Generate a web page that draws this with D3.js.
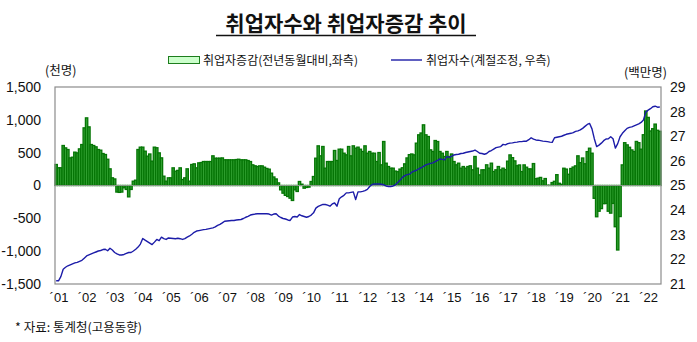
<!DOCTYPE html>
<html><head><meta charset="utf-8">
<script src="https://cdn.jsdelivr.net/npm/d3@7"></script>
<style>body{margin:0;background:#fff} svg{display:block}</style>
</head><body>
<svg id="c" width="697" height="342"></svg>
<script>
// ---- data ----
const yearLabels = ["01","02","03","04","05","06","07","08","09","10","11","12","13","14","15","16","17","18","19","20","21","22"];
// 취업자증감 (전년동월대비, 천명)
const chg2001 = [320, 270, 270, 609, 573, 548, 421, 431, 508, 497, 558, 624];
const chg2002 = [878, 1030, 893, 624, 609, 589, 548, 538, 487, 472, 400, 254];
const chg2003 = [117, 100, -100, -105, -100, -35, -60, -173, -60, 66, 81, 548];
const chg2004 = [584, 584, 523, 447, 480, 371, 584, 575, 497, 421, 142, 66];
const chg2005 = [117, 117, 269, 218, 230, 269, 91, 117, 254, 66, 320, 330];
const chg2006 = [269, 345, 350, 365, 365, 365, 365, 452, 416, 416, 416, 420];
const chg2007 = [391, 391, 391, 391, 391, 395, 400, 391, 391, 391, 380, 365];
const chg2008 = [315, 300, 289, 299, 299, 279, 260, 249, 188, 130, 100, 40];
const chg2009 = [-66, -117, -150, -168, -193, -228, -66, -91, 61, 20, -41, -30];
const chg2010 = [-25, 61, 137, 416, 604, 452, 594, 264, 365, 365, 365, 533];
const chg2011 = [381, 553, 553, 492, 467, 594, 452, 604, 569, 584, 553, 518];
const chg2012 = [604, 492, 518, 492, 492, 365, 502, 315, 670, 340, 289, 264];
const chg2013 = [264, 220, 210, 250, 270, 330, 420, 470, 480, 467, 645, 772];
const chg2014 = [800, 924, 772, 746, 543, 518, 685, 670, 518, 492, 442, 518];
const chg2015 = [442, 480, 365, 315, 340, 264, 289, 264, 289, 300, 239, 442];
const chg2016 = [264, 162, 239, 239, 315, 264, 340, 213, 239, 289, 239, 264];
const chg2017 = [243, 371, 466, 424, 375, 301, 313, 212, 314, 279, 253, 253];
const chg2018 = [334, 104, 112, 123, 72, 106, 5, 3, 45, 64, 165, 34];
const chg2019 = [19, 263, 250, 171, 259, 281, 299, 452, 348, 419, 331, 516];
const chg2020 = [568, 492, -195, -476, -392, -352, -277, -274, -392, -421, -273, -628];
const chg2021 = [-982, -473, 314, 652, 619, 582, 542, 518, 671, 652, 553, 773];
const chg2022 = [1135, 1037, 831, 865, 935, 841, 826];
// 취업자수 (계절조정, 백만명)
const emp2001 = [21.13, 21.13, 21.30, 21.60, 21.68, 21.74, 21.78, 21.82, 21.86, 21.88, 21.92, 21.96];
const emp2002 = [22.05, 22.14, 22.18, 22.22, 22.26, 22.30, 22.34, 22.36, 22.40, 22.41, 22.35, 22.45];
const emp2003 = [22.38, 22.28, 22.22, 22.18, 22.18, 22.20, 22.24, 22.28, 22.28, 22.34, 22.41, 22.50];
const emp2004 = [22.62, 22.85, 22.78, 22.72, 22.66, 22.60, 22.70, 22.81, 22.76, 22.90, 22.84, 22.81];
const emp2005 = [22.87, 22.86, 22.85, 22.84, 22.86, 22.84, 22.81, 22.84, 22.90, 22.95, 23.02, 23.10];
const emp2006 = [23.15, 23.17, 23.19, 23.21, 23.22, 23.24, 23.26, 23.28, 23.32, 23.38, 23.42, 23.48];
const emp2007 = [23.55, 23.56, 23.57, 23.58, 23.58, 23.60, 23.61, 23.62, 23.66, 23.71, 23.75, 23.80];
const emp2008 = [23.82, 23.84, 23.85, 23.85, 23.86, 23.85, 23.85, 23.84, 23.80, 23.84, 23.85, 23.76];
const emp2009 = [23.70, 23.66, 23.64, 23.60, 23.58, 23.72, 23.74, 23.72, 23.82, 23.77, 23.74, 23.71];
const emp2010 = [23.74, 23.80, 23.89, 24.08, 24.15, 24.19, 24.23, 24.23, 24.20, 24.16, 24.25, 24.29];
const emp2011 = [24.16, 24.46, 24.54, 24.60, 24.70, 24.70, 24.72, 24.74, 24.43, 24.74, 24.74, 24.76];
const emp2012 = [24.79, 24.84, 24.96, 25.04, 25.06, 25.06, 25.06, 25.05, 25.03, 24.98, 24.96, 24.96];
const emp2013 = [24.98, 25.03, 25.12, 25.22, 25.33, 25.40, 25.44, 25.46, 25.54, 25.58, 25.62, 25.68];
const emp2014 = [25.72, 25.78, 25.84, 25.87, 25.90, 25.92, 25.97, 26.02, 26.08, 26.06, 26.04, 26.17];
const emp2015 = [26.14, 26.18, 26.24, 26.26, 26.27, 26.30, 26.31, 26.34, 26.36, 26.38, 26.40, 26.44];
const emp2016 = [26.38, 26.31, 26.30, 26.27, 26.30, 26.38, 26.42, 26.48, 26.54, 26.56, 26.58, 26.67];
const emp2017 = [26.65, 26.70, 26.72, 26.73, 26.75, 26.76, 26.78, 26.78, 26.80, 26.80, 26.86, 26.94];
const emp2018 = [26.88, 26.85, 26.84, 26.82, 26.80, 26.79, 26.78, 26.76, 26.75, 26.94, 26.96, 26.98];
const emp2019 = [27.00, 27.04, 27.08, 27.10, 27.12, 27.15, 27.20, 27.22, 27.26, 27.32, 27.40, 27.48];
const emp2020 = [27.52, 27.30, 26.90, 26.58, 26.64, 26.72, 26.82, 26.89, 26.90, 26.98, 26.90, 26.52];
const emp2021 = [26.70, 26.98, 27.12, 27.22, 27.32, 27.36, 27.38, 27.42, 27.46, 27.50, 27.56, 27.66];
const emp2022 = [27.98, 28.06, 28.12, 28.20, 28.22, 28.18, 28.19];

const leftTicks = [-1500, -1000, -500, 0, 500, 1000, 1500];
const rightTicks = [21, 22, 23, 24, 25, 26, 27, 28, 29];

const change = [chg2001,chg2002,chg2003,chg2004,chg2005,chg2006,chg2007,chg2008,chg2009,chg2010,chg2011,
  chg2012,chg2013,chg2014,chg2015,chg2016,chg2017,chg2018,chg2019,chg2020,chg2021,chg2022].flat();
const level = [emp2001,emp2002,emp2003,emp2004,emp2005,emp2006,emp2007,emp2008,emp2009,emp2010,emp2011,
  emp2012,emp2013,emp2014,emp2015,emp2016,emp2017,emp2018,emp2019,emp2020,emp2021,emp2022].flat();
const months = change.map((_, i) => i);

// ---- layout ----
const P = {l: 55, r: 661, t: 87, b: 284};
const svg = d3.select("#c");
const numFont = "'Liberation Sans', Arial, sans-serif";
const korFont = "'Noto Sans CJK KR', sans-serif";

const x = d3.scaleBand().domain(months).range([P.l, P.r]).paddingInner(0);
const xm = d3.scaleLinear().domain([0, months.length]).range([P.l, P.r]);
const yL = d3.scaleLinear().domain([-1500, 1500]).range([P.b, P.t]);
const yR = d3.scaleLinear().domain([21, 29]).range([P.b, P.t]);

// title
svg.append("text").attr("x", 346).attr("y", 31).attr("text-anchor", "middle")
  .attr("font-family", korFont).attr("font-weight", "bold").attr("font-size", 21)
  .attr("fill", "#111").text("취업자수와 취업자증감 추이");
svg.append("line").attr("x1", 216).attr("x2", 476).attr("y1", 35.5).attr("y2", 35.5)
  .attr("stroke", "#111").attr("stroke-width", 1.5);

// legend
svg.append("rect").attr("x", 168.5).attr("y", 56.5).attr("width", 31).attr("height", 7)
  .attr("fill", "#ccffcc").attr("stroke", "#1d7d1d").attr("stroke-width", 1);
svg.append("text").attr("x", 203).attr("y", 64.5).attr("font-family", korFont).attr("font-size", 12)
  .attr("fill", "#111").text("취업자증감(전년동월대비,좌측)");
svg.append("line").attr("x1", 391).attr("x2", 422).attr("y1", 60).attr("y2", 60)
  .attr("stroke", "#1c1ca6").attr("stroke-width", 1.4);
svg.append("text").attr("x", 426).attr("y", 64.5).attr("font-family", korFont).attr("font-size", 12)
  .attr("fill", "#111").text("취업자수(계절조정, 우측)");

// axis unit labels
svg.append("text").attr("x", 45).attr("y", 75).attr("font-family", korFont).attr("font-size", 12.5)
  .attr("fill", "#111").text("(천명)");
svg.append("text").attr("x", 624).attr("y", 77).attr("font-family", korFont).attr("font-size", 12.5)
  .attr("fill", "#111").text("(백만명)");

// bars
svg.append("g").selectAll("rect").data(change).join("rect")
  .attr("x", (d, i) => x(i))
  .attr("width", x.bandwidth())
  .attr("y", d => yL(Math.max(0, d)))
  .attr("height", d => Math.abs(yL(d) - yL(0)))
  .attr("fill", "#33a333")
  .attr("stroke", "#057505")
  .attr("stroke-width", 1.3);

// zero line
svg.append("line").attr("x1", P.l).attr("x2", P.r).attr("y1", yL(0)).attr("y2", yL(0))
  .attr("stroke", "#8a9a8a").attr("stroke-width", 1.2);

// employment line
const line = d3.line().x((d, i) => x(i) + x.bandwidth() / 2).y(d => yR(d));
svg.append("path").datum(level).attr("d", line).attr("fill", "none")
  .attr("stroke", "#1c1ca8").attr("stroke-width", 1.4).attr("stroke-linejoin", "round");

// frame
svg.append("rect").attr("x", P.l).attr("y", P.t).attr("width", P.r - P.l).attr("height", P.b - P.t)
  .attr("fill", "none").attr("stroke", "#8c8c8c").attr("stroke-width", 1.2);

// axes
const fmt = d => d3.format(",")(d).replace("\u2212", "-");
const axL = svg.append("g").attr("transform", `translate(${P.l},0)`)
  .call(d3.axisLeft(yL).tickValues(leftTicks).tickFormat(fmt).tickSize(0).tickPadding(14));
axL.select(".domain").remove();
axL.selectAll("text").attr("font-family", numFont).attr("font-size", 14).attr("fill", "#111");

const axR = svg.append("g").attr("transform", `translate(${P.r},0)`)
  .call(d3.axisRight(yR).tickValues(rightTicks).tickSize(0).tickPadding(9));
axR.select(".domain").remove();
axR.selectAll("text").attr("font-family", numFont).attr("font-size", 14).attr("fill", "#111");

const yearTicks = yearLabels.map((_, k) => 12 * k + 1.5);
const axB = svg.append("g").attr("transform", `translate(0,${P.b})`)
  .call(d3.axisBottom(xm).tickValues(yearTicks).tickFormat((d, k) => "\u00B4" + yearLabels[k]).tickSize(0).tickPadding(9));
axB.select(".domain").remove();
axB.selectAll("text").attr("font-family", numFont).attr("font-size", 13).attr("fill", "#111");

// source note
svg.append("text").attr("x", 15).attr("y", 332).attr("font-family", korFont).attr("font-size", 12.5)
  .attr("fill", "#111").text("* 자료: 통계청(고용동향)");
</script>
</body></html>
